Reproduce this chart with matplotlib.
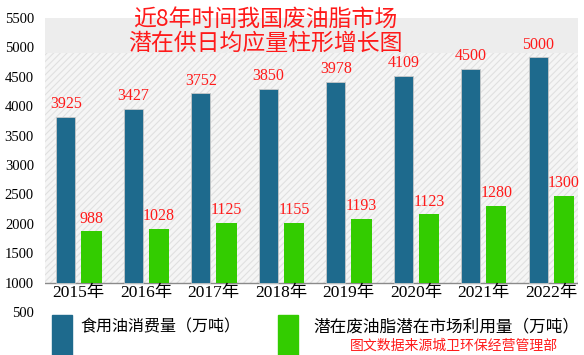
import matplotlib.pyplot as plt
import numpy as np
from matplotlib.patches import Rectangle

plt.rcParams['font.family'] = ['Liberation Serif', 'Noto Sans CJK SC']

years = ['2015年', '2016年', '2017年', '2018年', '2019年', '2020年', '2021年', '2022年']
# values printed on the chart
oil_labels = [3925, 3427, 3752, 3850, 3978, 4109, 4500, 5000]
waste_labels = [988, 1028, 1125, 1155, 1193, 1123, 1280, 1300]
# bar heights as drawn in the picture (they do not follow the labels)
oil_bars = [3820, 3950, 4220, 4300, 4410, 4520, 4640, 4830]
waste_bars = [1870, 1910, 2020, 2020, 2080, 2160, 2300, 2480]
yticks = [500, 1000, 1500, 2000, 2500, 3000, 3500, 4000, 4500, 5000, 5500]

blue = '#1e6a8d'
green = '#33cc00'
red = '#ff1a1a'

fig = plt.figure(figsize=(5.84, 3.55), dpi=100)
ax = fig.add_axes([45 / 584, 1 - 312 / 355, 533 / 584, 294 / 355])
ax.set_ylim(500, 5500)
ax.set_xlim(-0.5, 7.4)

# patterned background
plt.rcParams['hatch.linewidth'] = 0.8
ax.axhspan(1000, 4900, facecolor='#f5f5f5', edgecolor='#e0e0e0', hatch='/////', lw=0, zorder=0)
ax.axhspan(4900, 5500, facecolor='#ededed', lw=0, zorder=0)
ax.axhline(1000, color='#8a8a8a', lw=1, zorder=1)

x = np.arange(len(years))
base = 1000
ax.bar(x - 0.19, np.array(oil_bars) - base, 0.28, bottom=base, color=blue,
       edgecolor='#c8c8c8', linewidth=0.6, zorder=2)
ax.bar(x + 0.19, np.array(waste_bars) - base, 0.30, bottom=base, color=green, zorder=2)

for xi, h, v in zip(x - 0.19, oil_bars, oil_labels):
    ax.text(xi, h + 80, str(v), color=red, fontsize=11.5, ha='center', va='bottom',
            family='Liberation Serif')
for xi, h, v in zip(x + 0.19, waste_bars, waste_labels):
    ax.text(xi, h + 80, str(v), color=red, fontsize=11.5, ha='center', va='bottom',
            family='Liberation Serif')
for xi, y in zip(x, years):
    ax.text(xi, 820, y, fontsize=12.5, ha='center', va='center',
            family=['Liberation Serif', 'Noto Sans CJK SC'])

ax.set_yticks(yticks)
ax.set_yticklabels([str(t) for t in yticks], fontsize=10.5)
ax.tick_params(axis='y', length=0, pad=8)
ax.set_xticks([])
for s in ax.spines.values():
    s.set_visible(False)

fig.text(265 / 584, 1 - 19 / 355, '近8年时间我国废油脂市场', color=red, fontsize=16.5,
         ha='center', va='center', family='Noto Sans CJK SC')
fig.text(265 / 584, 1 - 43 / 355, '潜在供日均应量柱形增长图', color=red, fontsize=16.5,
         ha='center', va='center', family='Noto Sans CJK SC')

# legend
fig.patches.append(Rectangle((52 / 584, 0), 20 / 584, 40 / 355, color=blue,
                             transform=fig.transFigure, figure=fig))
fig.patches.append(Rectangle((278 / 584, 0), 20 / 584, 40 / 355, color=green,
                             transform=fig.transFigure, figure=fig))
fig.text(80 / 584, 1 - 327 / 355, '食用油消费量（万吨）', fontsize=11.5, va='center',
         family='Noto Sans CJK SC')
fig.text(313 / 584, 1 - 327 / 355, '潜在废油脂潜在市场利用量（万吨）', fontsize=12, va='center',
         family='Noto Sans CJK SC')
fig.text(454 / 584, 1 - 346 / 355, '图文数据来源城卫环保经营管理部', color=red, fontsize=10,
         ha='center', va='center', family='Noto Sans CJK SC')

fig.savefig('out.png', dpi=100)
